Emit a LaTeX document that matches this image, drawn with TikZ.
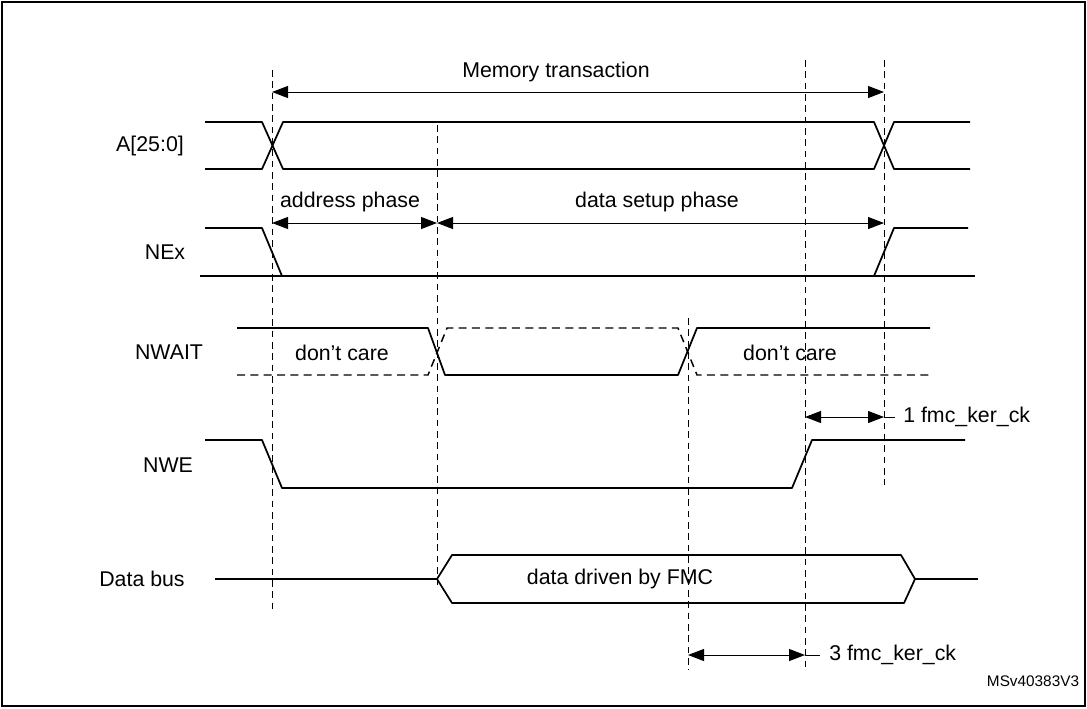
\documentclass[tikz,border=0pt]{standalone}
\usepackage{fontspec}
\setmainfont{Liberation Sans}
\usetikzlibrary{arrows.meta}
\begin{document}
\begin{tikzpicture}[x=0.75pt,y=-0.75pt,
  sig/.style={line width=1.3pt,line join=round},
  dsig/.style={line width=1.1pt,dash pattern=on 6pt off 4pt},
  guide/.style={line width=0.6pt,dash pattern=on 5pt off 3.5pt},
  dim/.style={line width=0.7pt,{Triangle[length=12pt,width=9pt]}-{Triangle[length=12pt,width=9pt]}},
  lbl/.style={font=\fontsize{16}{19}\selectfont,inner sep=0pt},
  ann/.style={font=\fontsize{16}{19}\selectfont,inner sep=0pt,anchor=west}]
\useasboundingbox (0,0) rectangle (1087,708);
\draw[line width=0.8pt] (2,2) rectangle (1085,706);
% guides
\coordinate (g1t) at (272,70); \coordinate (g1b) at (272,610);
\coordinate (g2t) at (437,125); \coordinate (g2b) at (437,585);
\coordinate (g3t) at (688,318); \coordinate (g3b) at (688,670);
\coordinate (g4t) at (805,60); \coordinate (g4b) at (805,668);
\coordinate (g5t) at (884,60); \coordinate (g5b) at (884,485);
\foreach \i in {1,...,5} \draw[guide] (g\i t) -- (g\i b);
% labels
\node[lbl] (la) at (150,146) {A[25:0]};
\node[lbl] (ln) at (165,252) {NEx};
\node[lbl] (lw) at (169,352) {NWAIT};
\node[lbl] (le) at (168,465) {NWE};
\node[lbl] (ld) at (142,579) {Data bus};
% Memory transaction
\coordinate (m1) at (272,92); \coordinate (m2) at (884,92);
\draw[dim] (m1) -- (m2);
\node[lbl] (mt) at (556,72) {Memory transaction};
% A
\draw[sig] (205,122) -- (262,122) -- (283,169) -- (874,169) -- (894,122) -- (970,122);
\draw[sig] (205,169) -- (262,169) -- (283,122) -- (874,122) -- (894,169) -- (970,169);
% NEx
\coordinate (p1) at (272,223); \coordinate (p2) at (437,223); \coordinate (p3) at (884,223);
\draw[dim] (p1) -- (p2);
\draw[dim] (p2) -- (p3);
\node[lbl] (ap) at (350,202) {address phase};
\node[lbl] (dp) at (657,202) {data setup phase};
\draw[sig] (205,228) -- (262,228) -- (282,276);
\draw[sig] (200,276) -- (975,276);
\draw[sig] (874,276) -- (894,228) -- (968,228);
% NWAIT
\draw[sig] (237,328) -- (428,328) -- (445,375) -- (678,375) -- (697,328) -- (930,328);
\draw[dsig] (237,375) -- (428,375) -- (447,328) -- (678,328) -- (697,375) -- (930,375);
\node[lbl] (dc1) at (342,353) {don’t care};
\node[lbl] (dc2) at (790,353) {don’t care};
% 1 fmc
\coordinate (k1) at (805,417); \coordinate (k2) at (884,417); \coordinate (k2e) at (895,417);
\draw[dim] (k1) -- (k2);
\draw[line width=0.7pt] (k2) -- (k2e);
\node[ann] (t1) at (903,417) {1 fmc\_ker\_ck};
% NWE
\draw[sig] (205,440) -- (262,440) -- (282,488) -- (792,488) -- (812,440) -- (965,440);
% Data bus
\draw[sig] (215,579) -- (437,579);
\draw[sig] (437,579) -- (452,555) -- (901,555) -- (915,579) -- (904,603) -- (452,603) -- cycle;
\draw[sig] (915,579) -- (978,579);
\node[lbl] (db) at (620,579) {data driven by FMC};
% 3 fmc
\coordinate (c1) at (688,655); \coordinate (c2) at (805,655); \coordinate (c2e) at (820,655);
\draw[dim] (c1) -- (c2);
\draw[line width=0.7pt] (c2) -- (c2e);
\node[ann] (t3) at (829,655) {3 fmc\_ker\_ck};
\node[font=\fontsize{11.5}{13}\selectfont,inner sep=0pt] (ms) at (1033,681) {MSv40383V3};
\end{tikzpicture}
\end{document}
